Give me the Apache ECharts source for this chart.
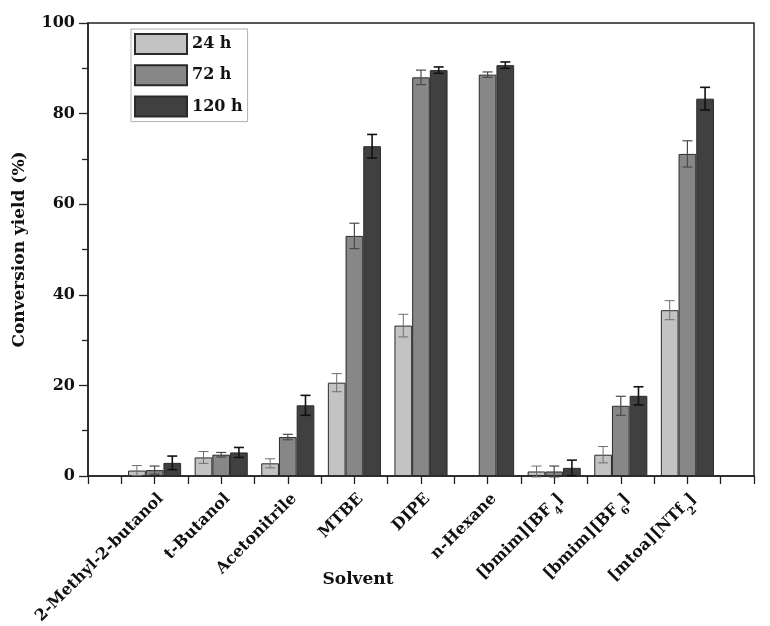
<!DOCTYPE html>
<html>
<head>
<meta charset="utf-8">
<script src="https://cdn.jsdelivr.net/npm/echarts@6/dist/echarts.min.js"></script>
<style>html,body{margin:0;padding:0;background:#fff;}#c{width:770px;height:626px;}</style>
</head>
<body>
<div id="c"></div>
<script>
const categories = ['2-Methyl-2-butanol', 't-Butanol', 'Acetonitrile', 'MTBE', 'DIPE', 'n-Hexane', '[bmim][BF{sub|4}]', '[bmim][BF{sub|6}]', '[mtoa][NTf{sub|2}]'];
const seriesNames = ['24 h', '72 h', '120 h'];
const yield24 = [1.2, 4.1, 2.8, 20.6, 33.2, null, 1.0, 4.7, 36.6];
const yield72 = [1.3, 4.7, 8.6, 53.0, 88.0, 88.6, 1.0, 15.5, 71.1];
const yield120 = [2.9, 5.2, 15.6, 72.8, 89.6, 90.7, 1.8, 17.7, 83.3];
const err24 = [1.1, 1.3, 1.0, 2.0, 2.5, null, 1.2, 1.8, 2.1];
const err72 = [0.9, 0.5, 0.6, 2.8, 1.6, 0.6, 1.2, 2.1, 2.9];
const err120 = [1.5, 1.1, 2.2, 2.6, 0.7, 0.7, 1.7, 2.0, 2.5];
const yTicks = [0, 20, 40, 60, 80, 100];

const FONT = 'DejaVu Serif';
const colors = ['#c3c3c3', '#878787', '#404040'];
const errColors = ['#6e6e6e', '#4a4a4a', '#111111'];
const errWidths = [1, 1.2, 1.6];
const BW = 17.7;

// Half-step slots: category k sits at slot 2*(k+1), slots 0..20
const nSlots = 2 * (categories.length + 1) + 1;
const slots = [];
for (let i = 0; i < nSlots; i++) slots.push('');
categories.forEach((c, k) => { slots[2 * (k + 1)] = c; });

function toSlots(arr) {
  const out = [];
  for (let i = 0; i < nSlots; i++) out.push(null);
  arr.forEach((v, k) => { out[2 * (k + 1)] = v; });
  return out;
}
const values = [yield24, yield72, yield120];
const errs = [err24, err72, err120];

const series = [];
values.forEach((vals, s) => {
  series.push({
    name: seriesNames[s],
    type: 'bar',
    data: toSlots(vals),
    barWidth: BW,
    barGap: '0%',
    itemStyle: { color: colors[s], borderColor: '#2a2a2a', borderWidth: 1 },
    z: 2
  });
});
values.forEach((vals, s) => {
  const data = [];
  vals.forEach((v, k) => {
    if (v != null && errs[s][k] != null) data.push([2 * (k + 1), v - errs[s][k], v + errs[s][k]]);
  });
  series.push({
    type: 'custom',
    name: 'err' + s,
    data: data,
    encode: { x: 0, y: [1, 2] },
    z: 5,
    silent: true,
    renderItem: function (params, api) {
      const lo = api.coord([api.value(0), api.value(1)]);
      const hi = api.coord([api.value(0), api.value(2)]);
      const x = lo[0] + (s - 1) * BW;
      const half = 5;
      const style = { stroke: errColors[s], lineWidth: errWidths[s] };
      return {
        type: 'group',
        children: [
          { type: 'line', shape: { x1: x, y1: lo[1], x2: x, y2: hi[1] }, style: style },
          { type: 'line', shape: { x1: x - half, y1: hi[1], x2: x + half, y2: hi[1] }, style: style },
          { type: 'line', shape: { x1: x - half, y1: lo[1], x2: x + half, y2: lo[1] }, style: style }
        ]
      };
    }
  });
});

const chart = echarts.init(document.getElementById('c'), null, { renderer: 'canvas' });
chart.setOption({
  animation: false,
  backgroundColor: '#fff',
  grid: { left: 88, right: 16, top: 23, bottom: 150, containLabel: false, outerBoundsMode: 'none', show: true, borderColor: '#222', borderWidth: 1.5, backgroundColor: 'transparent' },
  legend: {
    data: seriesNames,
    orient: 'vertical',
    left: 131, top: 29,
    padding: [4, 5, 4, 3],
    borderColor: '#b0b0b0', borderWidth: 1,
    icon: 'rect',
    itemWidth: 52, itemHeight: 20, itemGap: 9.3,
    textStyle: { fontFamily: FONT, fontWeight: 'bold', fontSize: 16, color: '#111' }
  },
  xAxis: {
    type: 'category',
    data: slots,
    boundaryGap: false,
    name: 'Solvent',
    nameLocation: 'middle',
    nameGap: 95,
    nameMoveOverlap: false,
    nameTextStyle: { fontFamily: FONT, fontWeight: 'bold', fontSize: 17, color: '#111', padding: [0, 126, 0, 0] },
    axisLine: { lineStyle: { color: '#222', width: 1.5 } },
    axisTick: { show: true, interval: 0, length: 8, inside: false, lineStyle: { color: '#222', width: 1.3 } },
    axisLabel: {
      interval: function (i, v) { return v !== ''; },
      rotate: 45,
      margin: 14,
      padding: [18, 0, 0, 0],
      fontFamily: FONT, fontWeight: 'bold', fontSize: 16, color: '#111',
      rich: { sub: { fontSize: 11, fontFamily: FONT, fontWeight: 'bold', color: '#111', verticalAlign: 'bottom', lineHeight: 30 } }
    },
    splitLine: { show: false }
  },
  yAxis: {
    type: 'value',
    min: yTicks[0], max: yTicks[yTicks.length - 1], interval: 20,
    name: 'Conversion yield (%)',
    nameLocation: 'middle',
    nameGap: 60,
    nameMoveOverlap: false,
    nameTextStyle: { fontFamily: FONT, fontWeight: 'bold', fontSize: 17, color: '#111' },
    axisLine: { show: true, lineStyle: { color: '#222', width: 1.5 } },
    axisTick: { show: true, length: 9, lineStyle: { color: '#222', width: 1.3 } },
    minorTick: { show: true, splitNumber: 2, length: 6, lineStyle: { color: '#222', width: 1.3 } },
    axisLabel: { margin: 13, fontFamily: FONT, fontWeight: 'bold', fontSize: 16, color: '#111' },
    splitLine: { show: false }
  },
  series: series
});
</script>
</body>
</html>
